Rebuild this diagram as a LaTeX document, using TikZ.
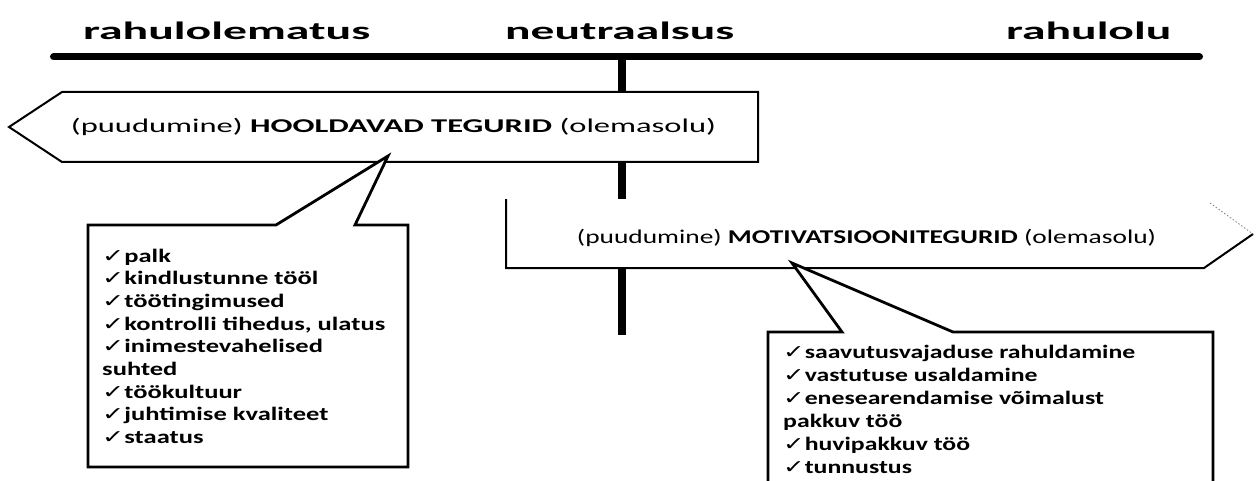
\documentclass[tikz,border=0pt]{standalone}
\usepackage{fontspec}
\usepackage{graphicx}
\setmainfont{Carlito}
\newfontfamily\symfont{DejaVu Sans}
% stretch a piece of text to a given width, keeping its height
\newcommand\fitw[2]{\resizebox{#1}{\height}{#2}}
\newcommand\ck{{\symfont ✓}}

\begin{document}
\begin{tikzpicture}[x=1pt,y=-1pt,
  axis/.style={line width=7pt, line cap=round},
  stem/.style={line width=8pt},
  factorbox/.style={fill=white, draw, line width=2pt, line join=miter},
  bubble/.style={fill=white, draw, line width=2.8pt, line join=miter},
  lbl/.style={inner sep=0pt, anchor=base west},
  headfont/.style={font=\fontsize{25}{30}\selectfont\bfseries},
  boxfont/.style={font=\fontsize{19.5}{23}\selectfont},
]
\useasboundingbox (0,0) rectangle (1257,481);
\clip (0,0) rectangle (1257,481);

% scale labels
\node[lbl, headfont] (dis) at (83,40) {\fitw{287pt}{rahulolematus}};
\node[lbl, headfont] (neu) at (505,40) {\fitw{229pt}{neutraalsus}};
\node[lbl, headfont] (sat) at (1006,40) {\fitw{165pt}{rahulolu}};

% scale axis and the neutral stem
\coordinate (axL) at (53.5,57);
\coordinate (axR) at (1199.5,57);
\coordinate (stT) at (622,57);
\coordinate (stB) at (622,335);
\draw[axis] (axL) -- (axR);
\draw[stem] (stT) -- (stB);

% hygiene factors: arrow pointing left
\draw[factorbox] (62,92) -- (758,92) -- (758,162) -- (62,162) -- (9,127) -- cycle;

% motivators: arrow pointing right
\fill[white] (506,199) -- (1206,199) -- (1253,234) -- (1204,268) -- (506,268) -- cycle;
\draw[line width=2pt, line join=miter] (506,199) -- (506,268) -- (1204,268) -- (1253,234);
\draw[gray, line width=0.8pt, dash pattern=on 1.5pt off 2pt] (1210,203) -- (1253,234);

% callouts with their tails
\draw[bubble] (88,225) -- (276,225) -- (388,156) -- (355,225) -- (408,225)
  -- (408,467) -- (88,467) -- cycle;
\draw[bubble] (768,332) -- (842,332) -- (792,263) -- (953,332) -- (1213,332)
  -- (1213,500) -- (768,500) -- cycle;

% arrow texts
\node[inner sep=0pt, anchor=base, boxfont] (hyg) at (393.5,133)
  {\fitw{645pt}{(puudumine)\ \textbf{HOOLDAVAD TEGURID} (olemasolu)}};
\node[inner sep=0pt, anchor=base, boxfont] (mot) at (866.5,243)
  {\fitw{579pt}{(puudumine) \textbf{MOTIVATSIOONITEGURID} (olemasolu)}};

% factor lists
\node[lbl] (hlist) at (102,262) {\fitw{283pt}{\fontsize{19}{22.7}\selectfont\bfseries
  \begin{tabular}[t]{@{}l@{}}
  \ck palk\\
  \ck kindlustunne tööl\\
  \ck töötingimused\\
  \ck kontrolli tihedus, ulatus\\
  \ck inimestevahelised\\
  suhted\\
  \ck töökultuur\\
  \ck juhtimise kvaliteet\\
  \ck staatus
  \end{tabular}}};
\node[lbl] (mlist) at (783,358) {\fitw{352pt}{\fontsize{19}{23}\selectfont\bfseries
  \begin{tabular}[t]{@{}l@{}}
  \ck saavutusvajaduse rahuldamine\\
  \ck vastutuse usaldamine\\
  \ck enesearendamise võimalust\\
  pakkuv töö\\
  \ck huvipakkuv töö\\
  \ck tunnustus
  \end{tabular}}};
\end{tikzpicture}
\end{document}
